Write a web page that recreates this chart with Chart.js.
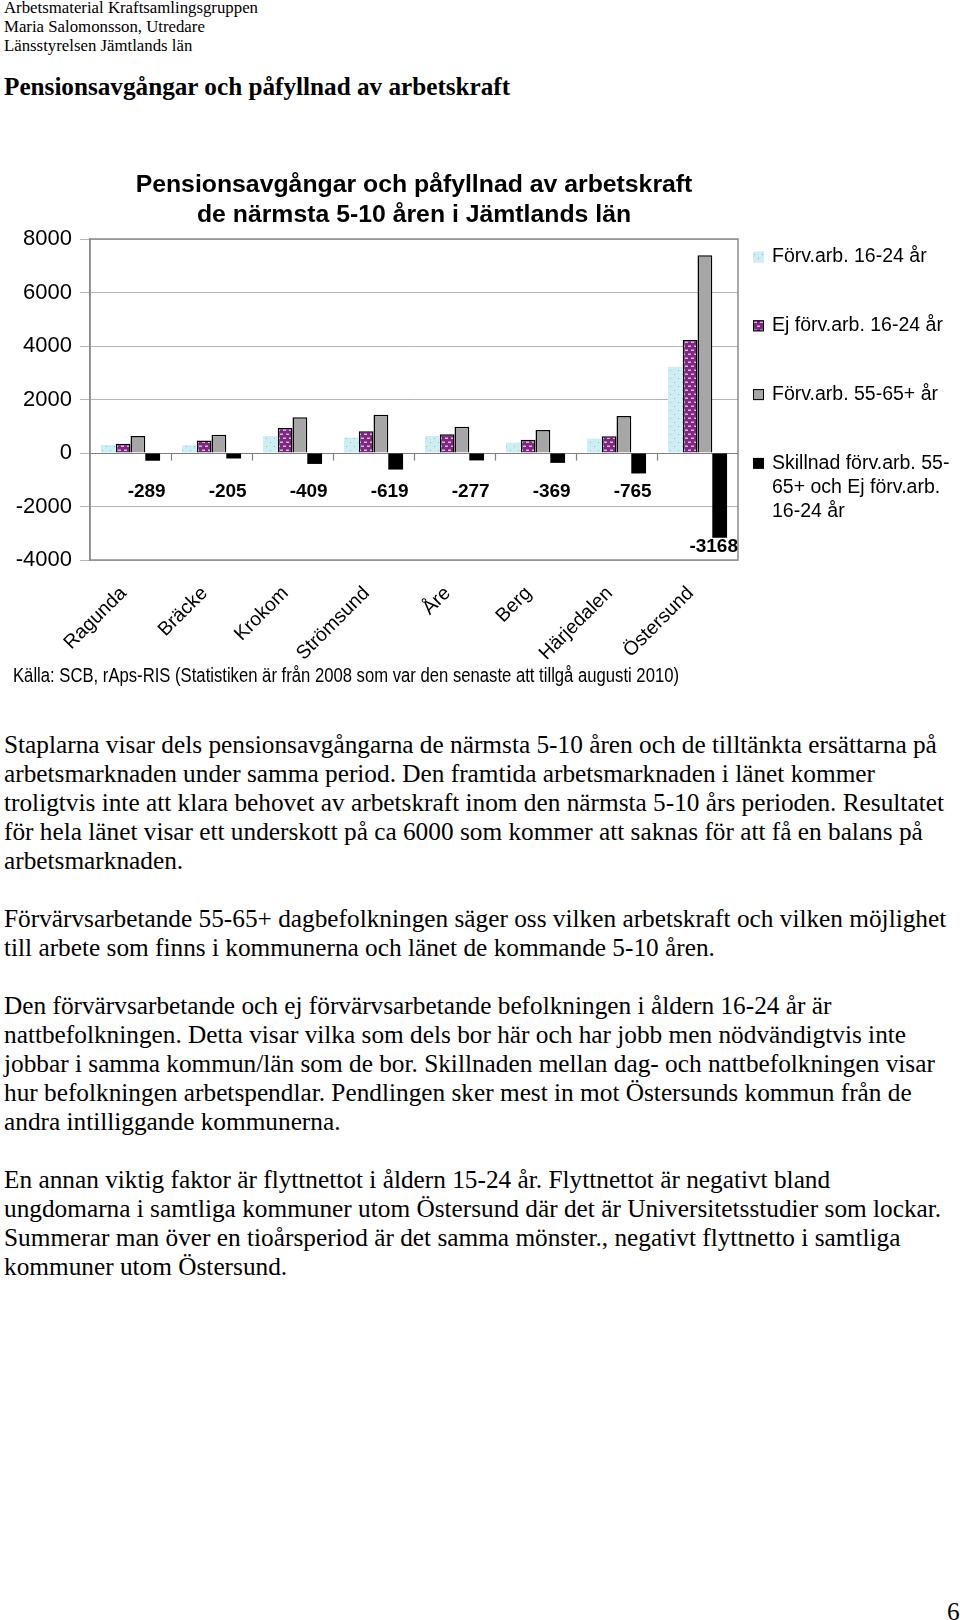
<!DOCTYPE html>
<html>
<head>
<meta charset="utf-8">
<title>Pensionsavgångar och påfyllnad av arbetskraft</title>
<script src="https://cdn.jsdelivr.net/npm/chart.js@4.4.1/dist/chart.umd.min.js"></script>
<style>
  html, body { margin: 0; padding: 0; background: #fff; }
  body {
    width: 960px; height: 1620px; position: relative; overflow: hidden;
    font-family: "Liberation Serif", "Times New Roman", serif; color: #000;
  }
  .head { position: absolute; left: 4px; top: -2px; font-size: 16.8px; line-height: 19.2px; white-space: nowrap; }
  h1 { position: absolute; left: 4px; top: 72.5px; margin: 0; font-size: 25.2px; line-height: 28px; font-weight: bold; white-space: nowrap; }
  #chartBox { position: absolute; left: 0; top: 140px; width: 960px; height: 560px; }
  #source {
    position: absolute; left: 13px; top: 665px;
    font-family: "Liberation Sans", Arial, sans-serif; font-size: 20px; line-height: 20px;
    white-space: nowrap; transform-origin: 0 0;
  }
  .text { position: absolute; left: 4px; top: 730.3px; font-size: 25.3px; line-height: 29px; white-space: nowrap; }
  .text p { margin: 0 0 29px 0; }
  #pageno { position: absolute; left: 947px; top: 1597px; font-size: 25.3px; line-height: 29px; }
</style>
</head>
<body>
<div class="head">Arbetsmaterial Kraftsamlingsgruppen<br>Maria Salomonsson, Utredare<br>Länsstyrelsen Jämtlands län</div>
<h1>Pensionsavgångar och påfyllnad av arbetskraft</h1>

<div id="chartBox"><canvas id="pensionChart" width="960" height="560"></canvas></div>
<div id="source">Källa: SCB, rAps-RIS (Statistiken är från 2008 som var den senaste att tillgå augusti 2010)</div>

<div class="text">
<p>Staplarna visar dels pensionsavgångarna de närmsta 5-10 åren och de tilltänkta ersättarna på<br>arbetsmarknaden under samma period. Den framtida arbetsmarknaden i länet kommer<br>troligtvis inte att klara behovet av arbetskraft inom den närmsta 5-10 års perioden. Resultatet<br>för hela länet visar ett underskott på ca 6000 som kommer att saknas för att få en balans på<br>arbetsmarknaden.</p>
<p>Förvärvsarbetande 55-65+ dagbefolkningen säger oss vilken arbetskraft och vilken möjlighet<br>till arbete som finns i kommunerna och länet de kommande 5-10 åren.</p>
<p>Den förvärvsarbetande och ej förvärvsarbetande befolkningen i åldern 16-24 år är<br>nattbefolkningen. Detta visar vilka som dels bor här och har jobb men nödvändigtvis inte<br>jobbar i samma kommun/län som de bor. Skillnaden mellan dag- och nattbefolkningen visar<br>hur befolkningen arbetspendlar. Pendlingen sker mest in mot Östersunds kommun från de<br>andra intilliggande kommunerna.</p>
<p>En annan viktig faktor är flyttnettot i åldern 15-24 år. Flyttnettot är negativt bland<br>ungdomarna i samtliga kommuner utom Östersund där det är Universitetsstudier som lockar.<br>Summerar man över en tioårsperiod är det samma mönster., negativt flyttnetto i samtliga<br>kommuner utom Östersund.</p>
</div>
<div id="pageno">6</div>

<script>
// data
const kommuner = ['Ragunda', 'Bräcke', 'Krokom', 'Strömsund', 'Åre', 'Berg', 'Härjedalen', 'Östersund'];
const forvArb1624 = [300, 290, 635, 575, 635, 385, 535, 3226];
const ejForvArb1624 = [350, 470, 930, 810, 700, 500, 625, 4222];
const forvArb5565 = [635, 685, 1335, 1430, 985, 860, 1385, 7390];
const skillnad = [-289, -205, -409, -619, -277, -369, -765, -3168];

const seriesNames = [
  'Förv.arb. 16-24 år',
  'Ej förv.arb. 16-24 år',
  'Förv.arb. 55-65+ år',
  'Skillnad förv.arb. 55-65+ och Ej förv.arb. 16-24 år'
];
// the legend wraps the last name like the original
const legendLines = [
  ['Förv.arb. 16-24 år'],
  ['Ej förv.arb. 16-24 år'],
  ['Förv.arb. 55-65+ år'],
  ['Skillnad förv.arb. 55-', '65+ och Ej förv.arb.', '16-24 år']
];
const titleLines = ['Pensionsavgångar och påfyllnad av arbetskraft', 'de närmsta 5-10 åren i Jämtlands län'];
const yMin = -4000, yMax = 8000, yStep = 2000;

const SANS = '"Liberation Sans", Arial, Helvetica, sans-serif';
Chart.defaults.font.family = SANS;
Chart.defaults.color = '#000';

// fill patterns like the excel chart
function dotPattern() {
  const c = document.createElement('canvas');
  c.width = 8; c.height = 8;
  const g = c.getContext('2d');
  g.fillStyle = '#cfeef3';
  g.fillRect(0, 0, 8, 8);
  g.fillStyle = '#86bcc4';
  g.fillRect(2, 2, 1, 1);
  g.fillRect(6, 6, 1, 1);
  return g.createPattern(c, 'repeat');
}

function brickPattern() {
  const c = document.createElement('canvas');
  c.width = 6; c.height = 8;
  const g = c.getContext('2d');
  g.fillStyle = '#7c2a7e';
  g.fillRect(0, 0, 6, 8);
  g.fillStyle = '#e4b2e4';
  g.fillRect(1, 1.5, 3, 1.5);
  g.fillRect(4, 5.5, 3, 1.5);
  g.fillRect(-2, 5.5, 3, 1.5);
  return g.createPattern(c, 'repeat');
}

// frame round the plot, and the category axis on the zero line
const plotFrame = {
  id: 'plotFrame',
  beforeDatasetsDraw(chart) {
    const { ctx, chartArea: a, scales: { x, y } } = chart;
    ctx.save();
    ctx.strokeStyle = '#8c8c8c';
    ctx.lineWidth = 1.5;
    ctx.strokeRect(a.left, a.top, a.right - a.left, a.bottom - a.top);

    const y0 = Math.round(y.getPixelForValue(0)) + 0.5;
    ctx.strokeStyle = '#808080';
    ctx.lineWidth = 1.2;
    ctx.beginPath();
    ctx.moveTo(a.left, y0);
    ctx.lineTo(a.right, y0);
    for (let i = 1; i < kommuner.length; i++) {
      const xb = Math.round((x.getPixelForValue(i - 1) + x.getPixelForValue(i)) / 2) + 0.5;
      ctx.moveTo(xb, y0);
      ctx.lineTo(xb, y0 + 7);
    }
    ctx.stroke();
    ctx.restore();
  }
};

// the bold difference values under the black bars
const diffLabels = {
  id: 'diffLabels',
  afterDatasetsDraw(chart) {
    const { ctx, scales: { y } } = chart;
    const meta = chart.getDatasetMeta(3);
    const y0 = y.getPixelForValue(0);
    ctx.save();
    ctx.font = 'bold 19px ' + SANS;
    ctx.fillStyle = '#000';
    ctx.textAlign = 'center';
    ctx.textBaseline = 'middle';
    meta.data.forEach((bar, i) => {
      const ly = Math.max(y0 + 39, bar.y + 9);
      ctx.fillText(String(skillnad[i]), bar.x - 6, ly);
    });
    ctx.restore();
  }
};

// legend on the right with wrapped text
const sideLegend = {
  id: 'sideLegend',
  afterDraw(chart) {
    const { ctx, chartArea: a } = chart;
    const left = a.right + 15;
    const top = a.top + 18;
    const step = 68.8;
    const lh = 24.3;
    const box = 11;
    ctx.save();
    ctx.font = '19.5px ' + SANS;
    ctx.textBaseline = 'middle';
    ctx.textAlign = 'left';
    chart.data.datasets.forEach((ds, i) => {
      const cy = top + i * step;
      ctx.fillStyle = ds.backgroundColor;
      ctx.fillRect(left, cy - box / 2, box, box);
      if (ds.borderWidth) {
        ctx.lineWidth = 1;
        ctx.strokeStyle = ds.borderColor;
        ctx.strokeRect(left + 0.5, cy - box / 2 + 0.5, box - 1, box - 1);
      }
      ctx.fillStyle = '#000';
      legendLines[i].forEach((t, k) => ctx.fillText(t, left + 19, cy + k * lh));
    });
    ctx.restore();
  }
};

const canvas = document.getElementById('pensionChart');
new Chart(canvas.getContext('2d'), {
  type: 'bar',
  data: {
    labels: kommuner,
    datasets: [
      { label: seriesNames[0], data: forvArb1624, backgroundColor: dotPattern(), borderWidth: 0 },
      { label: seriesNames[1], data: ejForvArb1624, backgroundColor: brickPattern(), borderColor: '#000', borderWidth: 1.5 },
      { label: seriesNames[2], data: forvArb5565, backgroundColor: '#a6a6a6', borderColor: '#000', borderWidth: 1.5 },
      { label: seriesNames[3], data: skillnad, backgroundColor: '#000', borderColor: '#000', borderWidth: 0 }
    ]
  },
  options: {
    responsive: false,
    animation: false,
    devicePixelRatio: 1,
    layout: { padding: { left: 0, right: 222, top: 0, bottom: 0 } },
    datasets: { bar: { categoryPercentage: 0.73, barPercentage: 1 } },
    plugins: {
      legend: { display: false },
      tooltip: { enabled: false },
      title: {
        display: true,
        text: titleLines,
        fullSize: false,
        color: '#000',
        font: { size: 24.8, weight: 'bold', lineHeight: 30 / 24.8 },
        padding: { top: 30, bottom: 9 }
      }
    },
    scales: {
      x: {
        grid: { display: false, drawTicks: false },
        border: { display: false },
        ticks: {
          color: '#000',
          font: { size: 19.5 },
          maxRotation: 45,
          minRotation: 45,
          padding: 22,
          labelOffset: -7,
          autoSkip: false
        },
        // tall enough that the slanted names are not clipped
        afterFit(scale) { scale.height = 140; }
      },
      y: {
        min: yMin,
        max: yMax,
        ticks: {
          stepSize: yStep,
          color: '#000',
          font: { size: 22 },
          padding: 8,
          callback: (v) => String(v)
        },
        grid: { color: '#b4b4b4', lineWidth: 1, tickLength: 10 },
        border: { color: '#8c8c8c', width: 1.5 },
        afterFit(scale) { scale.width = 90; }
      }
    }
  },
  plugins: [plotFrame, diffLabels, sideLegend]
});

// the source line is set narrow in the original
const src = document.getElementById('source');
src.style.transform = 'scaleX(' + (666 / src.getBoundingClientRect().width) + ')';
</script>
</body>
</html>
